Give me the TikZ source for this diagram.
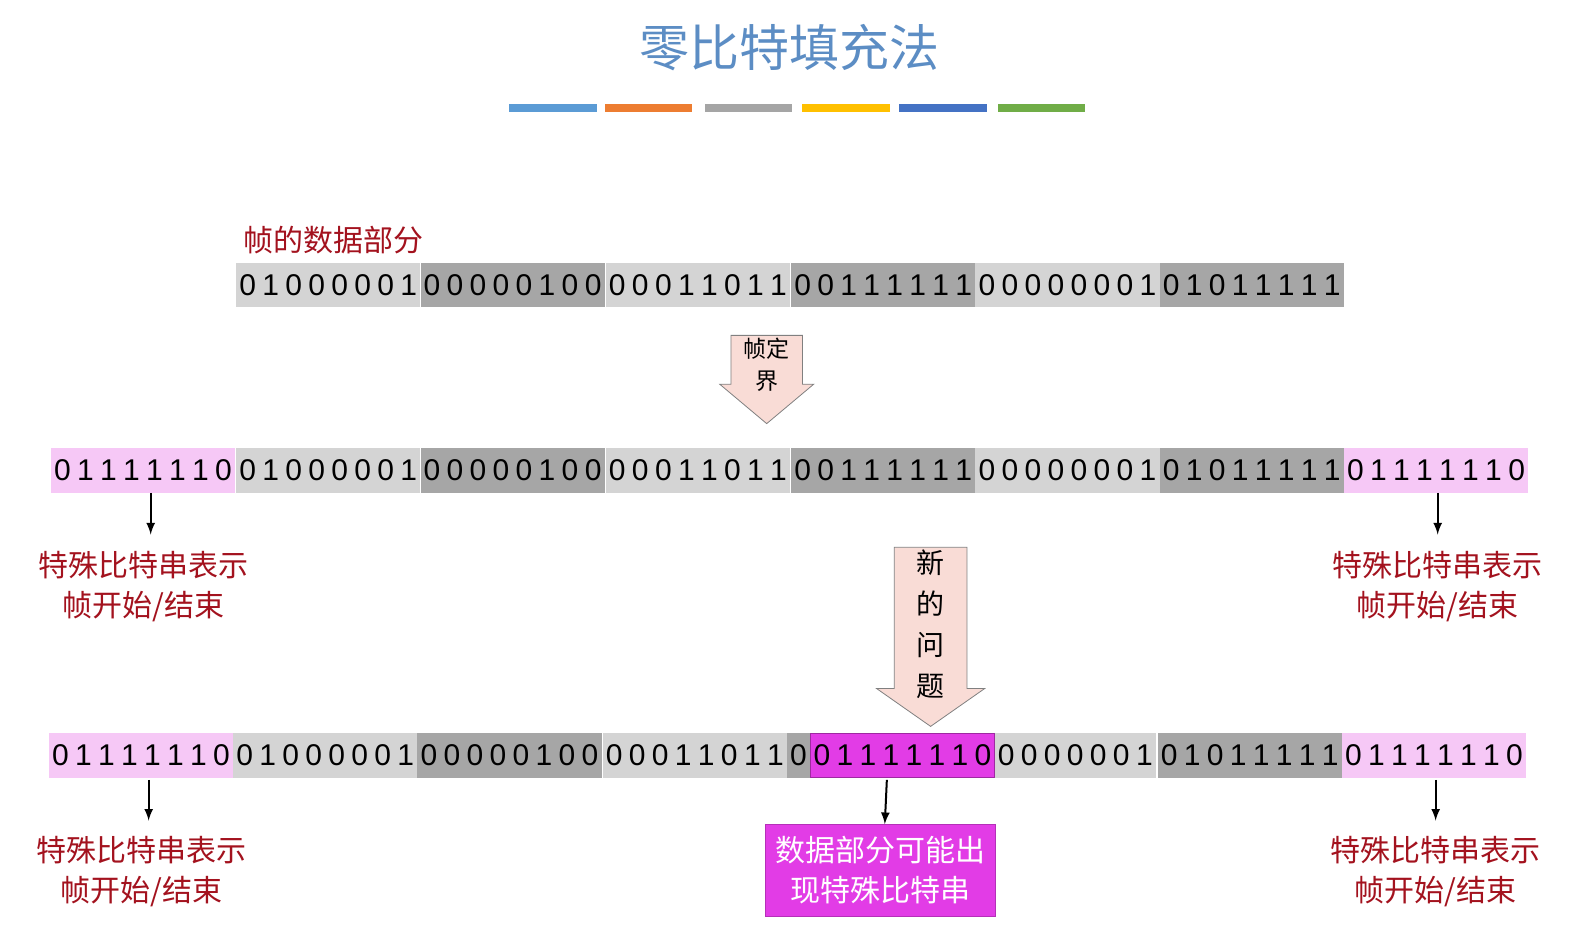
\documentclass[tikz,border=0pt]{standalone}
\usepackage{fontspec}
\setmainfont{Liberation Sans}
\newfontfamily\cjk{Noto Sans CJK SC}
\usetikzlibrary{shapes.arrows}
\definecolor{lg}{HTML}{D4D4D4}
\definecolor{dg}{HTML}{A6A6A6}
\definecolor{pk}{HTML}{F6C8F6}
\definecolor{mg}{HTML}{E23CE6}
\definecolor{dr}{HTML}{A3121E}
\definecolor{ttl}{HTML}{5C8DC4}
\definecolor{arf}{HTML}{F9DCD6}
\tikzset{x=0.509pt,y=-0.509pt,
 bit/.style={inner sep=0pt,font=\fontsize{15}{15}\selectfont},
 lab/.style={text=dr,font=\cjk\fontsize{15}{20}\selectfont,align=center},
 sarr/.style={-latex,line width=1pt}}
\newcommand\bitrow[4]{%
 \foreach \b [count=\i] in {#3} {\fill[#4] ({#1+(\i-1)*22.6},#2) rectangle ++(22.6,44);
   \node[bit] at ({#1+(\i-0.5)*22.6},#2+22) {\b};}}
\begin{document}
\begin{tikzpicture}
\useasboundingbox (0,0) rectangle (1567.5,923);
\node[text=ttl,font=\cjk\fontsize{25}{25}\selectfont] (title) at (775,47) {零比特填充法};
\foreach \xa/\c in {500/5B9BD5,594/ED7D31,692/A5A5A5,788/FFC000,883/4472C4,980/70AD47}
 {\definecolor{barc}{HTML}{\c}\fill[barc] (\xa,102) rectangle ++(86,8);}
\node[lab,anchor=west] (dl) at (232,236) {帧的数据部分};
% row 1
\bitrow{232}{258}{0,1,0,0,0,0,0,1}{lg}
\bitrow{413}{258}{0,0,0,0,0,1,0,0}{dg}
\bitrow{595}{258}{0,0,0,1,1,0,1,1}{lg}
\bitrow{777}{258}{0,0,1,1,1,1,1,1}{dg}
\bitrow{958}{258}{0,0,0,0,0,0,0,1}{lg}
\bitrow{1139}{258}{0,1,0,1,1,1,1,1}{dg}
% row 2
\bitrow{50}{440}{0,1,1,1,1,1,1,0}{pk}
\bitrow{232}{440}{0,1,0,0,0,0,0,1}{lg}
\bitrow{413}{440}{0,0,0,0,0,1,0,0}{dg}
\bitrow{595}{440}{0,0,0,1,1,0,1,1}{lg}
\bitrow{777}{440}{0,0,1,1,1,1,1,1}{dg}
\bitrow{958}{440}{0,0,0,0,0,0,0,1}{lg}
\bitrow{1139}{440}{0,1,0,1,1,1,1,1}{dg}
\bitrow{1320}{440}{0,1,1,1,1,1,1,0}{pk}
% row 3
\bitrow{48}{720}{0,1,1,1,1,1,1,0}{pk}
\bitrow{229}{720}{0,1,0,0,0,0,0,1}{lg}
\bitrow{410}{720}{0,0,0,0,0,1,0,0}{dg}
\bitrow{592}{720}{0,0,0,1,1,0,1,1}{lg}
\bitrow{773}{720}{0}{dg}
\bitrow{796}{720}{0,1,1,1,1,1,1,0}{mg}
\draw[mg!70!black,thin] (796,720) rectangle ++(180.8,44);
\bitrow{977}{720}{0,0,0,0,0,0,1}{lg}
\bitrow{1137}{720}{0,1,0,1,1,1,1,1}{dg}
\bitrow{1318}{720}{0,1,1,1,1,1,1,0}{pk}
% block arrows
\node[single arrow,shape border rotate=270,draw=gray,fill=arf,minimum width=47pt,minimum height=37pt,
 single arrow head extend=4pt,single arrow tip angle=100,inner sep=1pt,
 font=\cjk\fontsize{11.5}{16}\selectfont,align=center] (a1) at (753,358) {帧定\\界};
\node[single arrow,shape border rotate=270,draw=gray,fill=arf,minimum width=54pt,minimum height=74pt,
 single arrow head extend=4pt,single arrow tip angle=110,inner sep=1pt,
 font=\cjk\fontsize{14}{20.5}\selectfont,align=center] (a2) at (914,613) {新\\的\\问\\题};
% labels
\coordinate (s1) at (148,484); \node[lab] (l1) at (141,576) {特殊比特串表示\\帧开始/结束};
\coordinate (s2) at (1412,484); \node[lab] (l2) at (1412,576) {特殊比特串表示\\帧开始/结束};
\coordinate (s3) at (146,766); \node[lab] (l3) at (139,856) {特殊比特串表示\\帧开始/结束};
\coordinate (s4) at (1410,766); \node[lab] (l4) at (1410,856) {特殊比特串表示\\帧开始/结束};
\coordinate (s5) at (871,766);
\node[fill=mg,draw=mg!80!black,text=white,minimum width=115pt,minimum height=46pt,align=center,
 font=\cjk\fontsize{15}{20}\selectfont] (mb) at (864.5,855) {数据部分可能出\\现特殊比特串};
\draw[sarr] (s1) -- ++(0,41);
\draw[sarr] (s2) -- ++(0,41);
\draw[sarr] (s3) -- ++(0,40);
\draw[sarr] (s4) -- ++(0,40);
\draw[sarr] (s5) -- (mb.north -| 869,0);
\end{tikzpicture}
\end{document}
